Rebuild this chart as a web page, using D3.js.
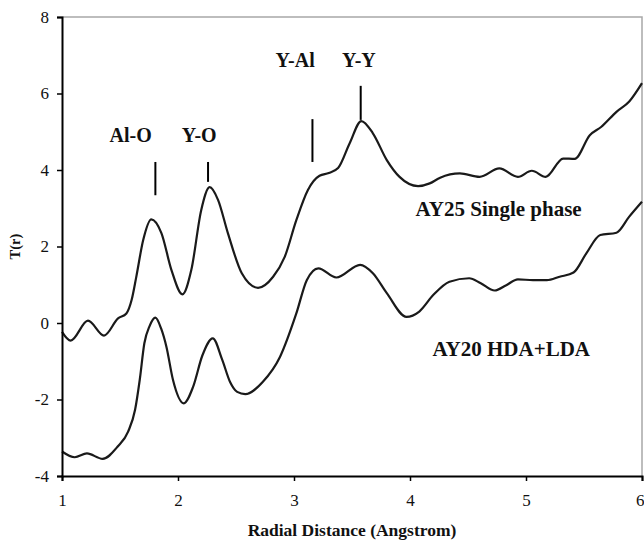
<!DOCTYPE html>
<html>
<head>
<meta charset="utf-8">
<script src="https://d3js.org/d3.v7.min.js"></script>
<style>
    body { margin: 0; background: #fff; }
    svg text { font-family: "Liberation Serif", "Times New Roman", Times, serif; }
</style>
</head>
<body>
<div id="chart"></div>
<script>
// radial distance (Angstrom) and T(r)
var ay25X = [1.00, 1.075, 1.224, 1.362, 1.483, 1.555, 1.60, 1.64, 1.70, 1.77, 1.857, 1.943, 2.038, 2.115, 2.2, 2.273, 2.345, 2.43, 2.55, 2.69, 2.82, 2.92, 3.02, 3.12, 3.22, 3.30, 3.38, 3.48, 3.58, 3.68, 3.80, 3.91, 4.07, 4.17, 4.26, 4.43, 4.60, 4.77, 4.93, 5.05, 5.17, 5.32, 5.42, 5.55, 5.65, 5.78, 5.89, 6.0];
var ay25Y = [-0.23, -0.46, 0.06, -0.33, 0.12, 0.25, 0.6, 1.2, 2.17, 2.71, 2.35, 1.39, 0.75, 1.39, 2.95, 3.55, 3.22, 2.35, 1.3, 0.92, 1.21, 1.73, 2.69, 3.48, 3.85, 3.92, 4.05, 4.7, 5.28, 4.96, 4.26, 3.82, 3.58, 3.65, 3.80, 3.91, 3.82, 4.04, 3.82, 3.98, 3.82, 4.30, 4.29, 4.91, 5.13, 5.52, 5.79, 6.27];

var ay20X = [1.00, 1.11, 1.215, 1.35, 1.48, 1.57, 1.63, 1.67, 1.71, 1.755, 1.805, 1.855, 1.9, 1.957, 2.05, 2.13, 2.21, 2.30, 2.38, 2.45, 2.51, 2.58, 2.73, 2.88, 3.02, 3.11, 3.21, 3.365, 3.57, 3.68, 3.80, 3.97, 4.08, 4.20, 4.34, 4.51, 4.61, 4.73, 4.83, 4.93, 5.06, 5.18, 5.29, 5.41, 5.52, 5.64, 5.78, 5.89, 6.0];
var ay20Y = [-3.36, -3.51, -3.41, -3.55, -3.23, -2.84, -2.27, -1.49, -0.53, -0.08, 0.14, -0.15, -0.62, -1.49, -2.1, -1.67, -0.85, -0.40, -0.95, -1.55, -1.8, -1.86, -1.54, -0.88, 0.25, 1.12, 1.43, 1.19, 1.52, 1.30, 0.78, 0.16, 0.30, 0.73, 1.08, 1.17, 1.04, 0.85, 0.99, 1.14, 1.12, 1.12, 1.21, 1.32, 1.82, 2.30, 2.36, 2.78, 3.17];

var xTicks = [1, 2, 3, 4, 5, 6];
var yTicks = [-4, -2, 0, 2, 4, 6, 8];

// peak markers: name, x, tick bottom/top, label x, label y
var peakNames = ["Al-O", "Y-O", "Y-Al", "Y-Y"];
var peakX = [1.805, 2.259, 3.159, 3.575];
var peakLow = [3.34, 3.69, 4.21, 5.31];
var peakHigh = [4.21, 4.21, 5.33, 6.20];
var peakLabelX = [1.592, 2.183, 3.01, 3.56];
var peakLabelY = [4.745, 4.745, 6.70, 6.70];

var seriesNames = ["AY25 Single phase", "AY20 HDA+LDA"];
var seriesLabelX = [4.048, 4.193];
var seriesLabelY = [2.81, -0.85];

var serif = "'Liberation Serif', 'Times New Roman', Times, serif";

var margin = {top: 17, right: 2, bottom: 66, left: 62};
var width = 644 - margin.left - margin.right;
var height = 542 - margin.top - margin.bottom;

var svg = d3.select("#chart").append("svg")
    .attr("width", 644)
    .attr("height", 542)
    .append("g")
    .attr("transform", "translate(" + margin.left + "," + margin.top + ")");

var x = d3.scaleLinear().domain([1, 6]).range([0, width]);
var y = d3.scaleLinear().domain([-4, 8]).range([height, 0]);

// grey frame on top and right
svg.append("path")
    .attr("d", "M0," + y(8) + "H" + x(6) + "V" + y(-4))
    .attr("fill", "none")
    .attr("stroke", "#a8a8a8")
    .attr("stroke-width", 1.5);

var line = d3.line()
    .x(function(d){ return x(d[0]); })
    .y(function(d){ return y(d[1]); })
    .curve(d3.curveMonotoneX);

var curves = [d3.zip(ay25X, ay25Y), d3.zip(ay20X, ay20Y)];
curves.forEach(function(c){
    svg.append("path")
        .datum(c)
        .attr("d", line)
        .attr("fill", "none")
        .attr("stroke", "#1a1a1a")
        .attr("stroke-width", 2.2)
        .attr("stroke-linejoin", "round");
});

var xAxis = svg.append("g")
    .attr("transform", "translate(0," + height + ")")
    .call(d3.axisBottom(x).tickValues(xTicks).tickSize(5).tickPadding(13).tickFormat(function(d){ return String(d); }));

var yAxis = svg.append("g")
    .call(d3.axisLeft(y).tickValues(yTicks).tickSize(5).tickPadding(8).tickFormat(function(d){ return String(d); }));

[xAxis, yAxis].forEach(function(a){
    a.select(".domain").attr("stroke", "#000").attr("stroke-width", 2);
    a.selectAll(".tick line").attr("stroke", "#000").attr("stroke-width", 1.5);
    a.selectAll(".tick text")
        .attr("fill", "#111")
        .attr("font-family", serif)
        .attr("font-size", 17);
});

// last x label sits at the window edge
xAxis.selectAll(".tick text")
    .filter(function(d){ return d === 6; })
    .attr("text-anchor", "end")
    .attr("x", 2);

// peak markers
for (var i = 0; i < peakNames.length; i++) {
    svg.append("line")
        .attr("x1", x(peakX[i])).attr("x2", x(peakX[i]))
        .attr("y1", y(peakLow[i])).attr("y2", y(peakHigh[i]))
        .attr("stroke", "#000")
        .attr("stroke-width", 2);

    svg.append("text")
        .attr("x", x(peakLabelX[i]))
        .attr("y", y(peakLabelY[i]))
        .attr("text-anchor", "middle")
        .attr("font-family", serif)
        .attr("font-size", 20)
        .attr("font-weight", "bold")
        .attr("fill", "#111")
        .text(peakNames[i]);
}

for (var j = 0; j < seriesNames.length; j++) {
    svg.append("text")
        .attr("x", x(seriesLabelX[j]))
        .attr("y", y(seriesLabelY[j]))
        .attr("font-family", serif)
        .attr("font-size", 21)
        .attr("font-weight", "bold")
        .attr("fill", "#111")
        .text(seriesNames[j]);
}

svg.append("text")
    .attr("x", width / 2)
    .attr("y", height + 60)
    .attr("text-anchor", "middle")
    .attr("font-family", serif)
    .attr("font-size", 17.5)
    .attr("font-weight", "bold")
    .attr("fill", "#111")
    .text("Radial Distance (Angstrom)");

svg.append("text")
    .attr("transform", "translate(" + (20 - margin.left) + "," + (height / 2) + ")rotate(-90)")
    .attr("text-anchor", "middle")
    .attr("font-family", serif)
    .attr("font-size", 14.5)
    .attr("font-weight", "bold")
    .attr("fill", "#111")
    .text("T(r)");
</script>
</body>
</html>
